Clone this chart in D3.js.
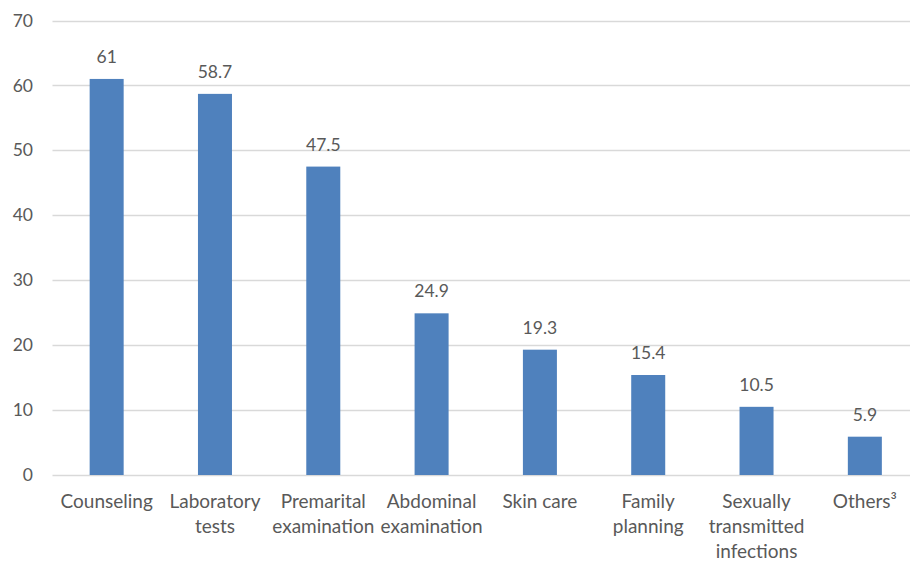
<!DOCTYPE html>
<html>
<head>
<meta charset="utf-8">
<script src="https://cdn.jsdelivr.net/npm/d3@7"></script>
<style>
  html, body { margin: 0; padding: 0; background: #fff; }
  svg { display: block; }
  text { font-family: Lato, "Open Sans", sans-serif; fill: #595959; }
</style>
</head>
<body>
<svg id="chart" width="910" height="564"></svg>
<script>
const categories = ["Counseling", "Laboratory tests", "Premarital examination", "Abdominal examination", "Skin care", "Family planning", "Sexually transmitted infections", "Others³"];
const categoryLines = [["Counseling"], ["Laboratory", "tests"], ["Premarital", "examination"], ["Abdominal", "examination"], ["Skin care"], ["Family", "planning"], ["Sexually", "transmitted", "infections"], ["Others³"]];
const values = [61, 58.7, 47.5, 24.9, 19.3, 15.4, 10.5, 5.9];
const valueLabels = ["61", "58.7", "47.5", "24.9", "19.3", "15.4", "10.5", "5.9"];
const yTicks = [0, 10, 20, 30, 40, 50, 60, 70];

(function () {
const svg = d3.select("#chart");
const mLeft = 52.5, mRight = 919, mTop = 20.5, mBottom = 475;

const x = d3.scaleBand().domain(categories).range([mLeft, mRight]).paddingInner(0.686).paddingOuter(0.343);
const y = d3.scaleLinear().domain([0, 70]).range([mBottom, mTop]);

// gridlines
svg.append("g").selectAll("line").data(yTicks).join("line")
  .attr("x1", mLeft).attr("x2", 910)
  .attr("y1", d => Math.round(y(d)) + 0.5).attr("y2", d => Math.round(y(d)) + 0.5)
  .attr("stroke", "#D9D9D9").attr("stroke-width", 1.3);

// y tick labels
svg.append("g").selectAll("text").data(yTicks).join("text")
  .attr("x", 33).attr("y", d => y(d)).attr("dy", "0.35em")
  .attr("text-anchor", "end").attr("font-size", 17.5)
  .text(d => d);

// bars
svg.append("g").selectAll("rect").data(values).join("rect")
  .attr("x", (d, i) => x(categories[i]))
  .attr("width", x.bandwidth())
  .attr("y", d => y(d))
  .attr("height", d => y(0) - y(d))
  .attr("fill", "#4F81BD");

// value labels
svg.append("g").selectAll("text").data(values).join("text")
  .attr("x", (d, i) => x(categories[i]) + x.bandwidth() / 2)
  .attr("y", d => y(d) - 16)
  .attr("text-anchor", "middle").attr("font-size", 17.5)
  .text((d, i) => valueLabels[i]);

// category labels
const cat = svg.append("g").selectAll("text").data(categories).join("text")
  .attr("x", d => x(d) + x.bandwidth() / 2)
  .attr("y", 508)
  .attr("text-anchor", "middle").attr("font-size", 19);
cat.each(function(d, i) {
  const t = d3.select(this);
  categoryLines[i].forEach((line, j) => {
    t.append("tspan").attr("x", x(d) + x.bandwidth() / 2).attr("y", 508 + j * 25).text(line);
  });
});
})();
</script>
</body>
</html>
